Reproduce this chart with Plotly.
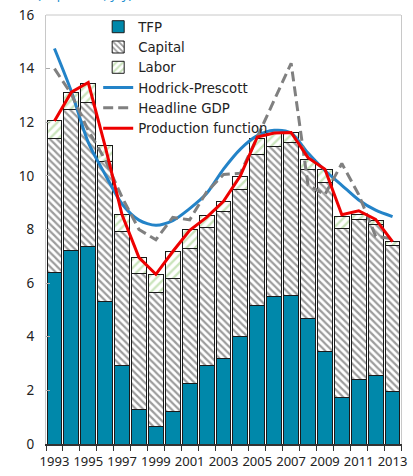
import plotly.graph_objects as go

# Growth decomposition, 1993-2013 (percent)
years = [str(y) for y in range(1993, 2014)]
tfp = [6.40, 7.22, 7.36, 5.32, 2.91, 1.28, 0.67, 1.22, 2.26, 2.91, 3.18,
       4.01, 5.17, 5.49, 5.53, 4.69, 3.46, 1.75, 2.42, 2.57, 1.97]
capital = [4.98, 5.26, 5.36, 5.20, 5.03, 5.08, 4.98, 4.96, 5.04, 5.16, 5.51,
           5.49, 5.63, 5.62, 5.73, 5.56, 6.30, 6.30, 5.96, 5.62, 5.45]
labor = [0.67, 0.63, 0.73, 0.61, 0.62, 0.58, 0.69, 1.00, 0.69, 0.47, 0.36,
         0.49, 0.61, 0.47, 0.36, 0.37, 0.49, 0.43, 0.18, 0.15, 0.13]
hodrick_prescott = [14.75, 13.15, 11.25, 10.05, 8.95, 8.35, 8.16, 8.33, 8.78, 9.34, 10.25,
                    11.0, 11.5, 11.7, 11.6, 10.85, 10.2, 9.65, 9.1, 8.72, 8.48]
headline_gdp = [14.0, 13.05, 11.7, 10.6, 9.2, 8.0, 7.62, 8.45, 8.36, 9.4, 10.05,
                10.1, 11.45, 12.8, 14.2, 9.66, 9.3, 10.46, 9.3, 7.75, 7.65]
production_fn = [12.05, 13.12, 13.48, 11.1, 8.55, 6.95, 6.33, 7.18, 7.97, 8.45, 9.05,
                 10.0, 11.45, 11.6, 11.62, 10.68, 10.25, 8.55, 8.7, 8.38, 7.55]
tick_labels = [y if int(y) % 2 == 1 else "" for y in years]

fig = go.Figure()

fig.add_trace(go.Bar(
    x=years, y=tfp, name="TFP",
    marker=dict(color="#0088AA", line=dict(color="#1A1A1A", width=1)),
))
fig.add_trace(go.Bar(
    x=years, y=capital, name="Capital",
    marker=dict(color="white", line=dict(color="#1A1A1A", width=1),
                pattern=dict(shape="\\", fgcolor="#3A3A3A", bgcolor="white",
                             size=5, solidity=0.45)),
))
fig.add_trace(go.Bar(
    x=years, y=labor, name="Labor",
    marker=dict(color="white", line=dict(color="#1A1A1A", width=1),
                pattern=dict(shape="/", fgcolor="#96C97A", bgcolor="white",
                             size=6, solidity=0.4)),
))
fig.add_trace(go.Scatter(
    x=years, y=hodrick_prescott, name="Hodrick-Prescott", mode="lines",
    line=dict(color="#2383C8", width=3, shape="spline", smoothing=0.8),
))
fig.add_trace(go.Scatter(
    x=years, y=headline_gdp, name="Headline GDP", mode="lines",
    line=dict(color="#808080", width=3, dash="10px,5px"),
))
fig.add_trace(go.Scatter(
    x=years, y=production_fn, name="Production function", mode="lines",
    line=dict(color="#EE0000", width=3),
))

# thin gray top border of the plot area
fig.add_shape(type="line", xref="paper", yref="paper", x0=0, x1=1, y0=1, y1=1,
              line=dict(color="#C8C8C8", width=1))

# blue unit line, cut off at the top of the picture
fig.add_annotation(text="(In percent, y/y)", xref="paper", yref="paper",
                   x=-0.03, y=1, xanchor="left", yanchor="bottom", yshift=10,
                   showarrow=False, font=dict(color="#1E90D0", size=13))

fig.update_layout(
    width=413, height=476,
    margin=dict(l=46, r=6, t=8, b=31),
    barmode="stack", bargap=0.12,
    plot_bgcolor="white", paper_bgcolor="white",
    font=dict(family="Noto Sans", size=13.5, color="#222222"),
    showlegend=True,
    legend=dict(x=0.147, y=1.008, xanchor="left", yanchor="top",
                bgcolor="rgba(0,0,0,0)",
                font=dict(family="DejaVu Sans", size=13.3),
                tracegroupgap=0, traceorder="normal"),
    xaxis=dict(type="category", tickvals=years, ticktext=tick_labels,
               tickson="boundaries", ticks="outside", ticklen=5,
               tickcolor="#333333", showline=True, linecolor="#333333",
               linewidth=1.5, showgrid=False, tickangle=0,
               tickfont=dict(size=13), ticklabelstandoff=5),
    yaxis=dict(range=[0, 16], dtick=2, ticks="inside", ticklen=4,
               tickcolor="#AAAAAA", showline=True, linecolor="#C8C8C8",
               mirror=True, showgrid=False, zeroline=False,
               ticklabelstandoff=8, ticklabeloverflow="allow"),
)

# drop the page's default body margin so the figure sits at the window corner
fig.write_html("out.html", config={"displayModeBar": False},
               post_script="document.body.style.margin='0';")
